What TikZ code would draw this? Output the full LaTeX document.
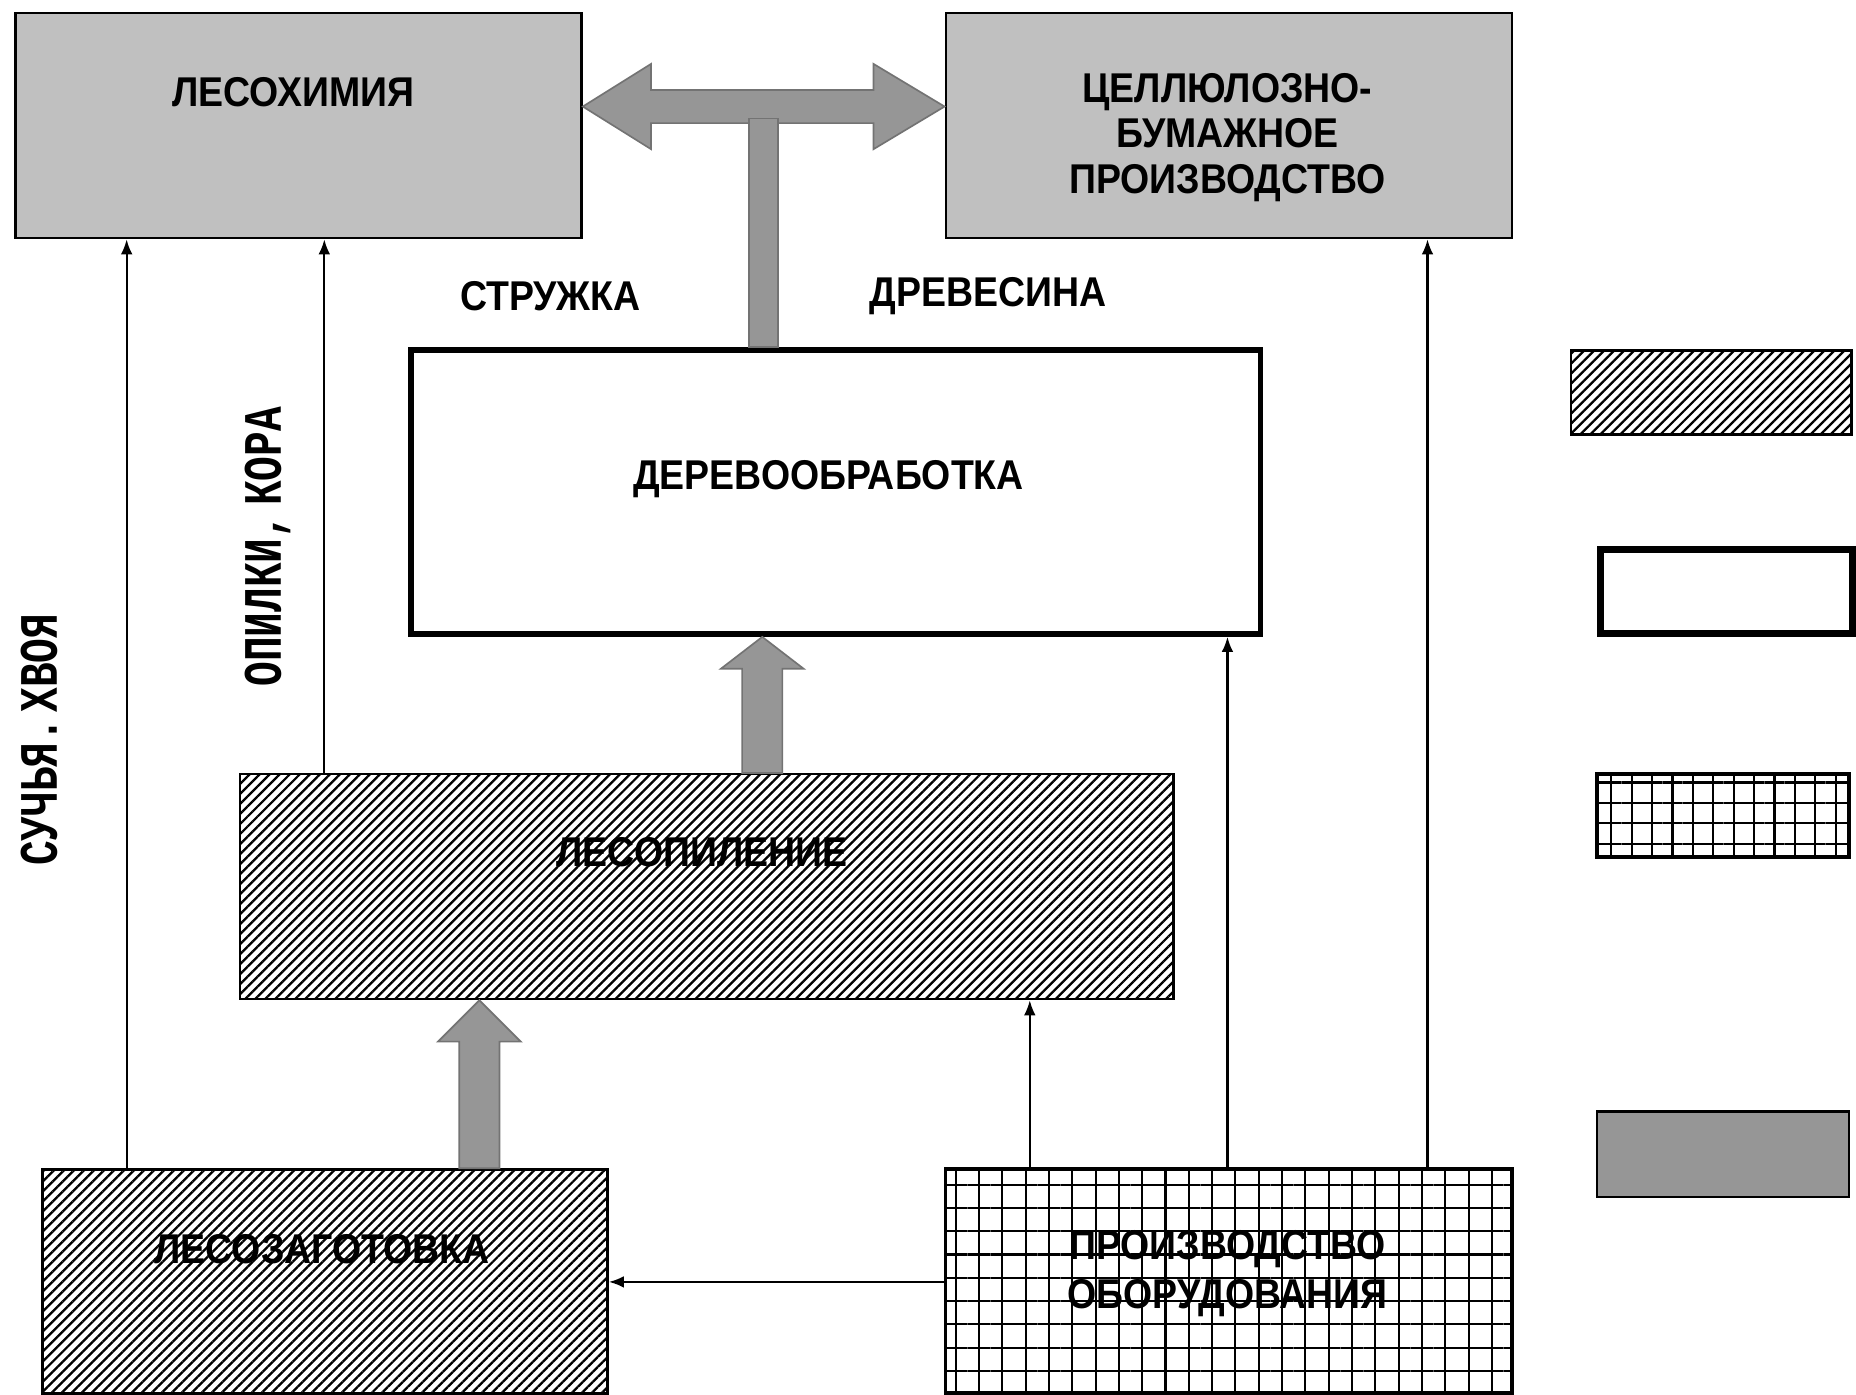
\documentclass[tikz,border=0pt]{standalone}
\usepackage{fontspec}
\setmainfont{Liberation Sans}
\newfontfamily\blockfont[FakeStretch=0.9]{Liberation Sans}
\newfontfamily\sidefont[FakeStretch=0.76]{Liberation Mono}
\usetikzlibrary{arrows.meta,patterns.meta,positioning}
\definecolor{boxgrey}{HTML}{C0C0C0}
\definecolor{arrowgrey}{HTML}{969696}
\tikzset{
  box/.style={draw,inner sep=0pt,anchor=north west,line width=0.6pt},
  greybox/.style={box,fill=boxgrey},
  hatchbox/.style={box,pattern={Lines[angle=45,distance=1.7pt,line width=0.55pt]}},
  gridbox/.style={box,line width=0.9pt,pattern={Hatch[angle=0,distance=5.6pt,line width=0.5pt]}},
  thickbox/.style={box,fill=white,line width=1.4pt},
  boxtext/.style={font=\blockfont\bfseries\fontsize{10}{11}\selectfont,align=center,inner sep=0pt},
  sidetext/.style={font=\sidefont\bfseries\fontsize{13}{15}\selectfont,rotate=90,inner sep=0pt},
  flow/.style={-{Latex[length=3.6pt,width=2.8pt]},line width=0.5pt},
  block/.style={fill=arrowgrey,draw=black!55,line width=0.4pt},
}
\begin{document}
\begin{tikzpicture}[x=0.01cm,y=-0.01cm]

\useasboundingbox (0,0) rectangle (1568,1178);

% boxes
\node[greybox,minimum width=4.78cm,minimum height=1.90cm] (chem) at (12,10) {};
\node[greybox,minimum width=4.78cm,minimum height=1.90cm] (pulp) at (798,10) {};
\node[thickbox,minimum width=7.17cm,minimum height=2.40cm] (wood) at (345,293) {};
\node[hatchbox,minimum width=7.88cm,minimum height=1.90cm] (saw) at (202,653) {};
\node[hatchbox,minimum width=4.77cm,minimum height=1.89cm] (logging) at (35,987) {};
\node[gridbox,minimum width=4.78cm,minimum height=1.89cm] (equip) at (798,987) {};

% texts
\node[boxtext] (chem-t) at (248,78) {ЛЕСОХИМИЯ};
\node[boxtext,font=\blockfont\bfseries\fontsize{10}{10.9}\selectfont] (pulp-t) at (1037,116) {ЦЕЛЛЮЛОЗНО-\\БУМАЖНОЕ\\ПРОИЗВОДСТВО};
\node[boxtext] (wood-t) at (700,405) {ДЕРЕВООБРАБОТКА};
\node[boxtext] (saw-t) at (593,720) {ЛЕСОПИЛЕНИЕ};
\node[boxtext] (logging-t) at (272,1055) {ЛЕСОЗАГОТОВКА};
\node[boxtext,font=\blockfont\bfseries\fontsize{10}{11.9}\selectfont] (equip-t) at (1037,1076) {ПРОИЗВОДСТВО\\ОБОРУДОВАНИЯ};
\node[boxtext] (chips) at (465,250) {СТРУЖКА};
\node[boxtext] (timber) at (835,250) {ДРЕВЕСИНА};
\node[sidetext] (twigs) at (33,625) {СУЧЬЯ.\hspace{0.1em}ХВОЯ};
\node[sidetext] (dust) at (226,462) {ОПИЛКИ,\hspace{0.15em}КОРА};

% wide arrows
\draw[block] (chem.east |- 0,90) -- (550,54) -- (550,76) -- (738,76) -- (738,54)
  -- (pulp.west |- 0,90) -- (738,126) -- (738,104) -- (550,104) -- (550,126) -- cycle;
\draw[block] (633,100) rectangle (657,0 |- wood.north);
\draw[block] (627,0 |- saw.north) -- (627,565) -- (609,565) -- (644,0 |- wood.south)
  -- (679,565) -- (661,565) -- (661,0 |- saw.north) -- cycle;
\draw[block] (388,0 |- logging.north) -- (388,880) -- (370,880) -- (405,0 |- saw.south)
  -- (440,880) -- (422,880) -- (422,0 |- logging.north) -- cycle;

% thin arrows
\draw[flow] (107,0 |- logging.north) -- (107,0 |- chem.south);
\draw[flow] (274,0 |- saw.north) -- (274,0 |- chem.south);
\draw[flow] (870,0 |- equip.north) -- (870,0 |- saw.south);
\draw[flow] (1037,0 |- equip.north) -- (1037,0 |- wood.south);
\draw[flow] (1206,0 |- equip.north) -- (1206,0 |- pulp.south);
\draw[flow] (equip.west |- 0,1083) -- (logging.east |- 0,1083);

% legend
\node[hatchbox,minimum width=2.37cm,minimum height=0.71cm] (leg-hatch) at (1326,295) {};
\node[thickbox,line width=1.8pt,minimum width=2.13cm,minimum height=0.71cm] (leg-thick) at (1349,461) {};
\node[gridbox,pattern={Hatch[angle=0,distance=4.9pt,line width=0.5pt]},minimum width=2.13cm,minimum height=0.70cm] (leg-grid) at (1348,653) {};
\node[box,fill=arrowgrey,minimum width=2.13cm,minimum height=0.72cm] (leg-grey) at (1348,938) {};

\end{tikzpicture}
\end{document}
